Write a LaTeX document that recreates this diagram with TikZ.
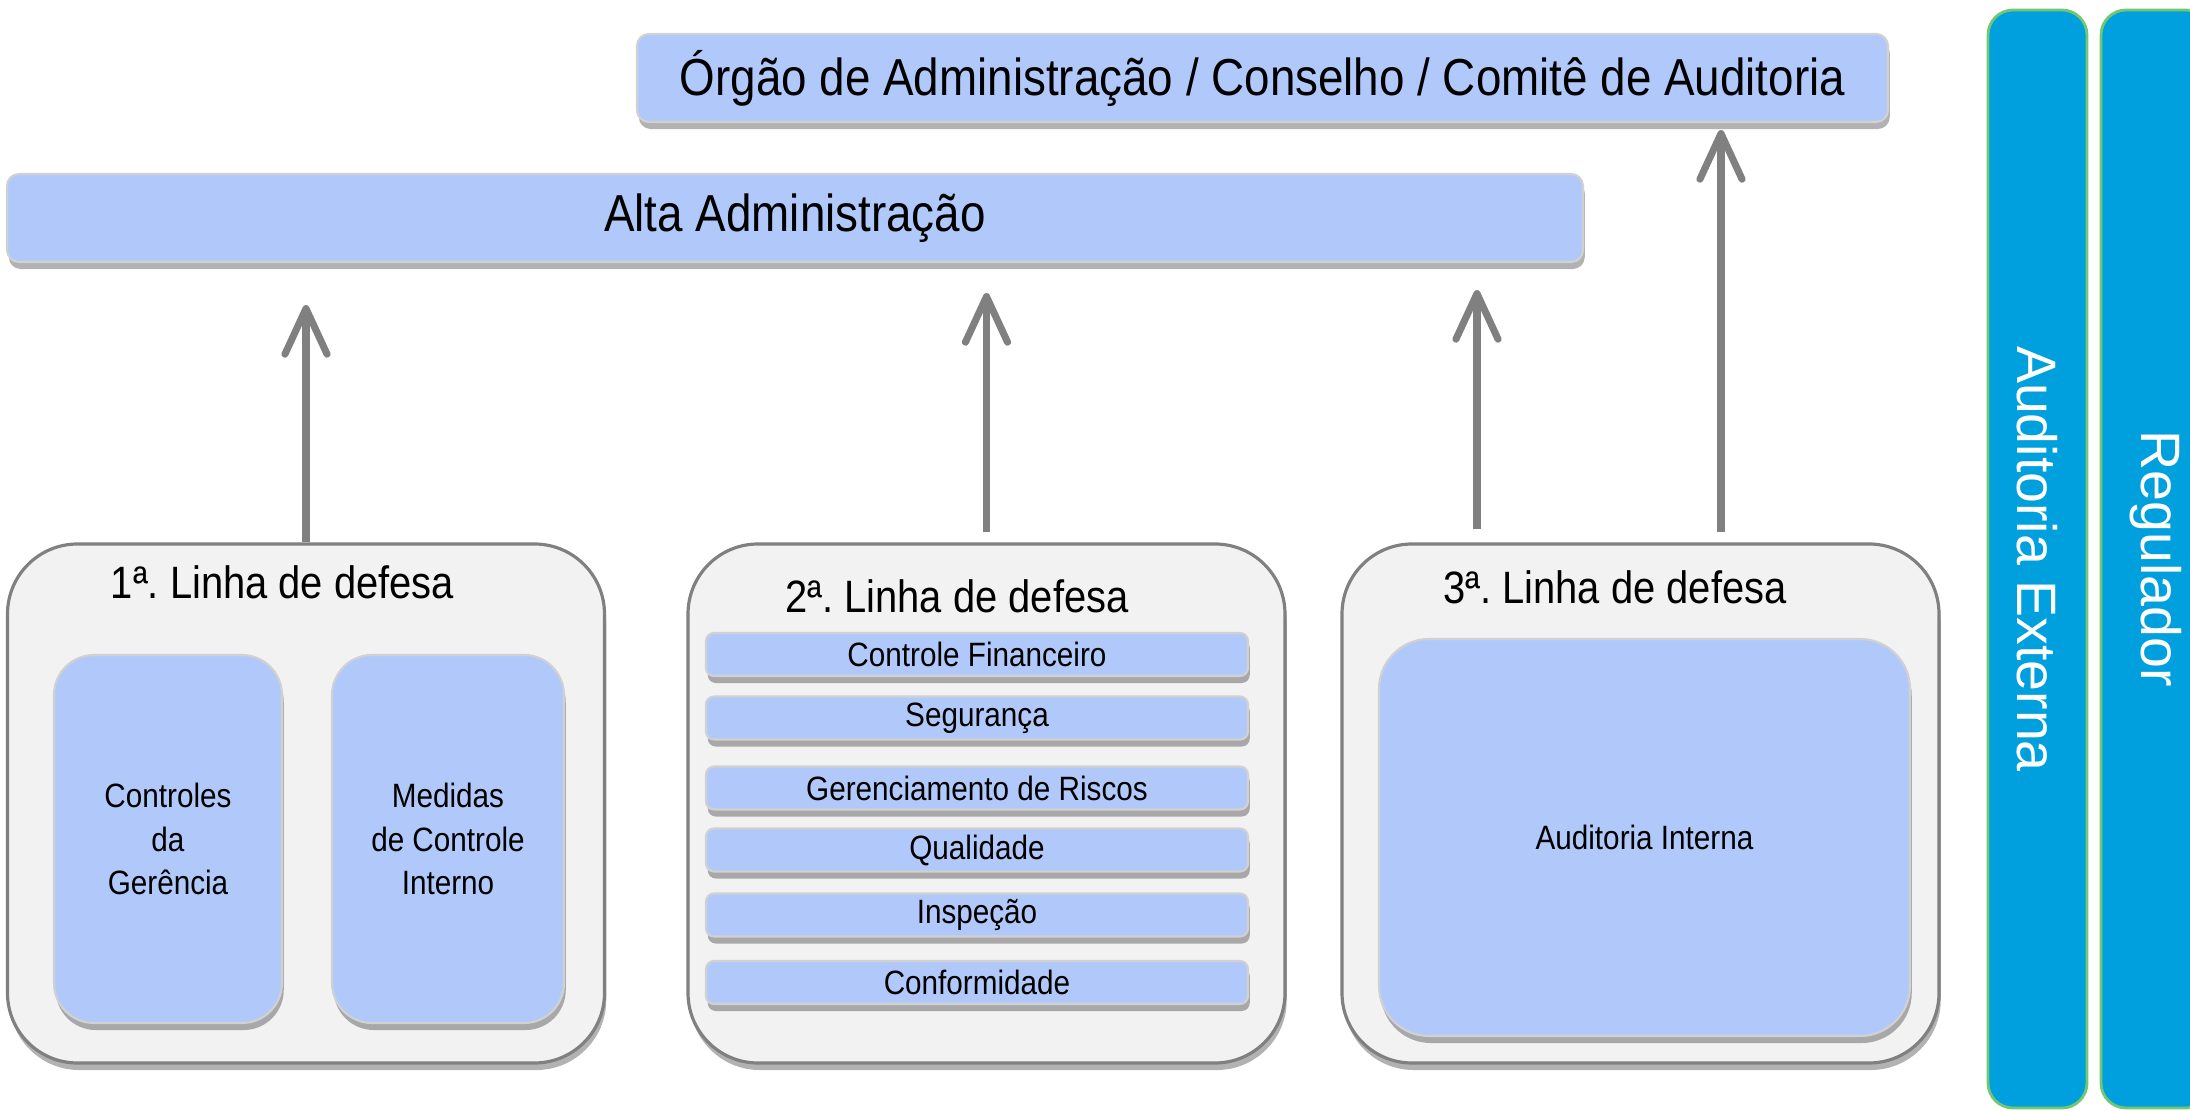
\documentclass[tikz,border=0pt]{standalone}
\usepackage{fontspec}
\setmainfont{Liberation Sans}[FakeStretch=0.88]
\newfontfamily\barfont{Liberation Sans}
\usepackage{tikz}
\usetikzlibrary{arrows.meta, shadows, positioning}

\definecolor{caixa}{HTML}{B1C9FA}
\definecolor{fundo}{HTML}{F2F2F2}
\definecolor{borda}{HTML}{808080}
\definecolor{azulbarra}{HTML}{00A0DE}
\definecolor{verde}{HTML}{72C872}
\definecolor{cinzaseta}{HTML}{808080}

\frenchspacing
\begin{document}
\begin{tikzpicture}[
    sombra/.style={drop shadow={shadow xshift=0.5pt, shadow yshift=-2pt, opacity=0.3, fill=black}},
    faixa/.style={draw=black!18, line width=0.6pt, fill=caixa, rounded corners=0.12cm, sombra,
        minimum height=0.88cm, font=\fontsize{14.8pt}{17pt}\selectfont},
    linha/.style={draw=borda, line width=0.9pt, fill=fundo, rounded corners=0.7cm,
        minimum width=5.97cm, minimum height=5.19cm, sombra},
    titulo/.style={font=\fontsize{12.9pt}{15pt}\selectfont},
    bloco/.style={draw=black!18, line width=0.6pt, fill=caixa, sombra, align=center,
        font=\fontsize{9.6pt}{12.5pt}\selectfont},
    item/.style={bloco, rounded corners=0.08cm, minimum width=5.42cm, minimum height=0.43cm, inner sep=0pt},
    barra/.style={draw=verde, line width=0.8pt, fill=azulbarra, rounded corners=0.25cm, rotate=-90,
        minimum width=10.98cm, minimum height=0.99cm, text=white, font=\barfont\fontsize{15.8pt}{18pt}\selectfont},
    seta/.style={draw=cinzaseta, line width=2pt, -{Straight Barb[length=13pt, width=12pt, round]}}
]
    \useasboundingbox (0,0) rectangle (21.9,11.11);

    % topo
    \node[faixa, minimum width=12.51cm] (orgao) at (12.625,10.33) {Órgão de Administração / Conselho / Comitê de Auditoria};
    \node[faixa, minimum width=15.76cm] (alta) at (7.95,8.93) {Alta Administração};

    % linhas de defesa
    \node[linha] (linha1) at (3.06,3.075) {};
    \node[linha] (linha2) at (9.865,3.075) {};
    \node[linha] (linha3) at (16.405,3.075) {};

    \node[titulo] (titulo1) at (2.825,5.29) {1ª. Linha de defesa};
    \node[titulo] (titulo2) at (9.57,5.15) {2ª. Linha de defesa};
    \node[titulo] (titulo3) at (16.15,5.24) {3ª. Linha de defesa};

    \node[bloco, rounded corners=0.4cm, minimum width=2.28cm, minimum height=3.68cm] (gerencia) at (1.68,2.72) {Controles\\da\\Gerência};
    \node[bloco, rounded corners=0.4cm, minimum width=2.32cm, minimum height=3.68cm] (medidas) at (4.48,2.72) {Medidas\\de Controle\\Interno};

    \foreach \nome/\y/\texto in {fin/4.565/Controle Financeiro, seg/3.93/Segurança, ris/3.23/Gerenciamento de Riscos,
                                  qua/2.61/Qualidade, ins/1.96/Inspeção, con/1.285/Conformidade}
        \node[item] (\nome) at (9.77,\y) {\texto};

    \node[bloco, rounded corners=0.5cm, minimum width=5.31cm, minimum height=3.97cm] (interna) at (16.445,2.735) {Auditoria Interna};

    % barras laterais
    \node[barra] (externa) at (20.375,5.52) {Auditoria Externa};
    \node[barra, minimum height=1.1cm] (regulador) at (21.56,5.52) {Regulador};

    % setas
    \draw[seta, shorten >=0.42cm] (linha1.north) -- (linha1.north |- alta.south);
    \draw[seta, shorten <=0.1cm, shorten >=0.3cm] (linha2.north) -- (linha2.north |- alta.south);
    \draw[seta, shorten <=0.13cm, shorten >=0.27cm] ([xshift=-1.635cm]linha3.north) -- ([xshift=-1.635cm]linha3.north |- alta.south);
    \draw[seta, shorten <=0.1cm, shorten >=0.07cm] ([xshift=0.805cm]linha3.north) -- ([xshift=0.805cm]linha3.north |- orgao.south);
\end{tikzpicture}
\end{document}
